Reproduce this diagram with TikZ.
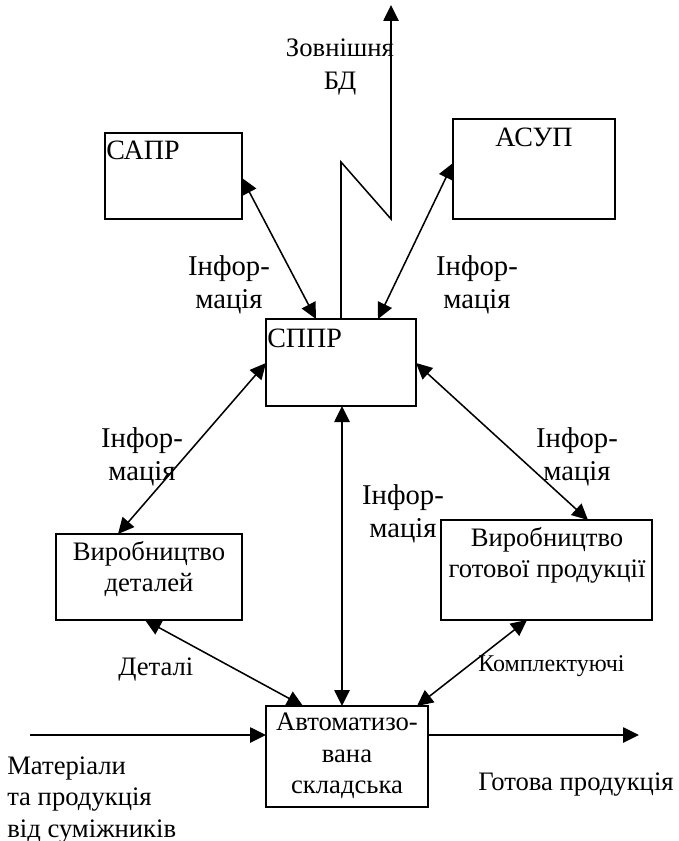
\documentclass[tikz,border=0pt]{standalone}
\usepackage{fontspec}
\setmainfont{Liberation Serif}
\usetikzlibrary{arrows.meta}
\def\u{0.75pt}
\tikzset{x=0.75pt,y=-0.75pt,
 box/.style={draw,line width=1.15pt,inner sep=0pt,outer sep=0pt,anchor=north west},
 head/.style={font=\fontsize{21}{24}\selectfont,align=center,inner sep=0pt},
 info/.style={font=\fontsize{21.5}{24.5}\selectfont,align=center,inner sep=0pt},
 lbl/.style={font=\fontsize{20}{23.5}\selectfont,align=center,inner sep=0pt},
 small/.style={font=\fontsize{18}{20}\selectfont,inner sep=0pt},
 conn/.style={line width=1.15pt,-{Triangle[length=12pt,width=11.5pt]}},
 both/.style={line width=1.15pt,{Triangle[length=12pt,width=11.5pt]}-{Triangle[length=12pt,width=11.5pt]}}}
\begin{document}
\begin{tikzpicture}
\useasboundingbox (0,0) rectangle (678,841);
\node[box,minimum width=137*\u,minimum height=86*\u] (sapr) at (105,133) {};
\node[box,minimum width=162*\u,minimum height=100*\u] (asup) at (453,119) {};
\node[box,minimum width=150*\u,minimum height=87*\u] (sppr) at (266,319) {};
\node[box,minimum width=186*\u,minimum height=86*\u] (det) at (56,534) {};
\node[box,minimum width=211*\u,minimum height=100*\u] (got) at (441,520) {};
\node[box,minimum width=162*\u,minimum height=101*\u] (auto) at (266,706) {};
\coordinate (zigA) at (341,162);
\coordinate (zigB) at (391,219);
\coordinate (zigC) at (391,5);
\coordinate (inS) at (30,735);
\coordinate (outE) at (639,735);
\node[head,anchor=west] (tsapr) at (106,150) {САПР};
\node[head] (tasup) at (534,137) {АСУП};
\node[head,anchor=west] (tsppr) at (267,338) {СППР};
\node[lbl] (tdet) at (149,569) {Виробництво\\деталей};
\node[lbl] (tgot) at (547,555) {Виробництво\\готової продукції};
\node[lbl] (tauto) at (347,756) {Автоматизо-\\вана\\складська};
\node[lbl,font=\fontsize{20}{24.5}\selectfont] (tzov) at (340,67) {Зовнішня\\БД};
\node[info] (i1) at (229,285) {Інфор-\\мація};
\node[info] (i2) at (477,285) {Інфор-\\мація};
\node[info] (i3) at (142,457) {Інфор-\\мація};
\node[info] (i4) at (403,514) {Інфор-\\мація};
\node[info] (i5) at (577,457) {Інфор-\\мація};
\node[lbl,anchor=west] (tdetali) at (118,670) {Деталі};
\node[small,anchor=west] (tkomp) at (478,666) {Комплектуючі};
\node[lbl,align=left,anchor=west] (tmat) at (7,800) {Матеріали\\та продукція\\від суміжників};
\node[lbl,anchor=west] (tgotova) at (478,785) {Готова продукція};
\draw[conn] (sppr.north) -- (zigA) -- (zigB) -- (zigC);
\draw[both] ([yshift=-45*\u]sapr.north east) -- ([xshift=50*\u]sppr.north west);
\draw[both] ([yshift=-44*\u]asup.north west) -- ([xshift=112*\u]sppr.north west);
\draw[both] ([yshift=-44*\u]sppr.north west) -- ([xshift=62*\u]det.north west);
\draw[both] ([yshift=-44*\u]sppr.north east) -- ([xshift=147*\u]got.north west);
\draw[both] ([xshift=1*\u]sppr.south) -- ([xshift=-5*\u]auto.north);
\draw[both] ([xshift=89*\u]det.south west) -- ([xshift=37*\u]auto.north west);
\draw[both] ([xshift=86*\u]got.south west) -- ([xshift=151*\u]auto.north west);
\draw[conn] (inS) -- (inS -| auto.west);
\draw[conn] (auto.east |- outE) -- (outE);
\end{tikzpicture}
\end{document}
